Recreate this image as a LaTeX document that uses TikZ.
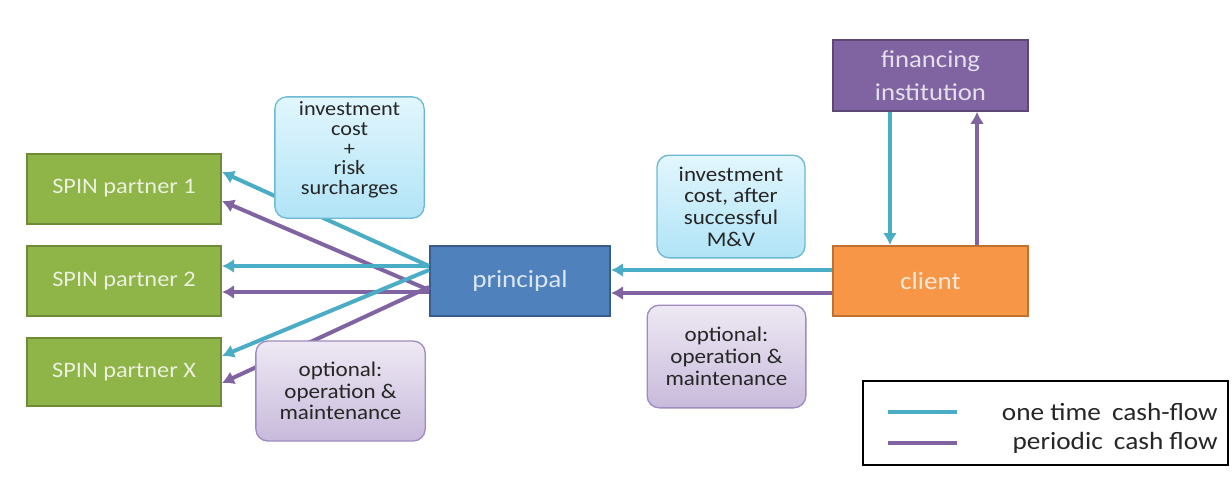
\documentclass[tikz,border=0pt]{standalone}
\usepackage{fontspec}
\setmainfont{Carlito}[FakeStretch=1.1]
\usetikzlibrary{arrows.meta}
\definecolor{grn}{HTML}{8FB447}
\definecolor{grnb}{HTML}{6E8C38}
\definecolor{grnt}{HTML}{EBF1DE}
\definecolor{blu}{HTML}{4F81BD}
\definecolor{blub}{HTML}{385D8A}
\definecolor{blut}{HTML}{DCE6F2}
\definecolor{org}{HTML}{F79646}
\definecolor{orgb}{HTML}{C0712F}
\definecolor{orgt}{HTML}{FDE9D9}
\definecolor{pur}{HTML}{8064A2}
\definecolor{purb}{HTML}{5C4776}
\definecolor{purt}{HTML}{E5DFEC}
\definecolor{teal}{HTML}{4BACC6}
\definecolor{cyt}{HTML}{E2F6FD}
\definecolor{cyb}{HTML}{B0E4F7}
\definecolor{cyd}{HTML}{6DB9D2}
\definecolor{plt}{HTML}{EEE9F4}
\definecolor{plb}{HTML}{C8BADB}
\definecolor{pld}{HTML}{9F8BBE}
\tikzset{
  boxnode/.style={draw, line width=1.5pt, inner sep=0pt, align=center, font=\fontsize{18.5}{22}\selectfont},
  greenbox/.style={boxnode, fill=grn, draw=grnb, text=grnt, minimum width=145.5pt, minimum height=52.5pt, font=\fontsize{16.6}{20}\selectfont},
  callout/.style={draw, line width=1pt, rounded corners=9pt, inner sep=0pt, align=center, text=black!85, font=\fontsize{15.7}{16.3}\selectfont},
  cyancall/.style={callout, top color=cyt, bottom color=cyb, draw=cyd},
  purcall/.style={callout, top color=plt, bottom color=plb, draw=pld},
  calltext/.style={inner sep=0pt, align=center, text=black!85, font=\fontsize{15.2}{14.8}\selectfont},
  flowt/.style={draw=teal, line width=3pt, -{Latex[length=9pt,width=10.5pt]}},
  flowp/.style={draw=pur, line width=3pt, -{Latex[length=9pt,width=10.5pt]}},
  legtext/.style={anchor=east, inner sep=0pt, font=\fontsize{18.6}{22}\selectfont, text=black!85},
}
\begin{document}
\begin{tikzpicture}[x=0.75pt,y=-0.75pt]
\useasboundingbox (0,0) rectangle (1232,486);
% nodes
\node[greenbox] (s1) at (124,188.5) {SPIN partner 1};
\node[greenbox] (s2) at (124,281) {SPIN partner 2};
\node[greenbox, minimum height=51pt] (sx) at (124,372) {SPIN partner X};
\node[boxnode, fill=blu, draw=blub, text=blut, minimum width=135pt, minimum height=52.5pt] (pr) at (520,281) {principal};
\node[boxnode, fill=org, draw=orgb, text=orgt, minimum width=146pt, minimum height=52.5pt] (cl) at (930.5,281) {client};
\node[boxnode, fill=pur, draw=purb, text=purt, minimum width=146pt, minimum height=53pt, font=\fontsize{18.2}{24.5}\selectfont] (fi) at (930.5,75.5) {financing\\institution};
% left arrows
\draw[flowt] ([yshift=11.25pt]pr.west) -- ([yshift=12.4pt]s1.east);
\draw[flowp] ([yshift=-6.75pt]pr.west) -- ([yshift=-9.4pt]s1.east);
\draw[flowt] ([yshift=11.25pt]pr.west) -- ([yshift=11.25pt]s2.east);
\draw[flowp] ([yshift=-8.25pt]pr.west) -- ([yshift=-8.25pt]s2.east);
\draw[flowt] ([yshift=8.25pt]pr.west) -- ([yshift=12pt]sx.east);
\draw[flowp] ([yshift=-4.5pt]pr.west) -- ([yshift=-8.25pt]sx.east);
% right arrows
\draw[flowt] ([yshift=8.25pt]cl.west) -- ([yshift=8.25pt]pr.east);
\draw[flowp] ([yshift=-9pt]cl.west) -- ([yshift=-9pt]pr.east);
\draw[flowt] ([xshift=-30.4pt]fi.south) -- ([xshift=-30.4pt]cl.north);
\draw[flowp] ([xshift=34.9pt]cl.north) -- ([xshift=34.9pt]fi.south);
% callouts
\node[cyancall, minimum width=112pt, minimum height=91pt] (c1) at (349.5,157.5) {};
\node[calltext] (c1t) at (349.5,150) {investment\\cost\\+\\risk\\surcharges};
\node[cyancall, minimum width=111pt, minimum height=77pt] (c2) at (731,206.5) {investment\\cost, after\\successful\\M\&V};
\node[purcall, minimum width=119pt, minimum height=77pt] (c3) at (726.5,356.5) {optional:\\operation \&\\maintenance};
\node[purcall, minimum width=127pt, minimum height=75pt] (c4) at (340.5,391) {optional:\\operation \&\\maintenance};
% legend
\node[draw=black, line width=1.5pt, minimum width=273.75pt, minimum height=63pt, inner sep=0pt] (lg) at (1045.5,423) {};
\coordinate (la1) at (888,412); \coordinate (lb1) at (957,412);
\coordinate (la2) at (888,443); \coordinate (lb2) at (957,443);
\draw[draw=teal, line width=3pt] (la1) -- (lb1);
\draw[draw=pur, line width=3pt] (la2) -- (lb2);
\node[legtext] (lt1) at (1218,412) {one time\hspace{0.2em} cash-flow};
\node[legtext] (lt2) at (1218,443) {periodic\hspace{0.2em} cash flow};
\end{tikzpicture}
\end{document}
